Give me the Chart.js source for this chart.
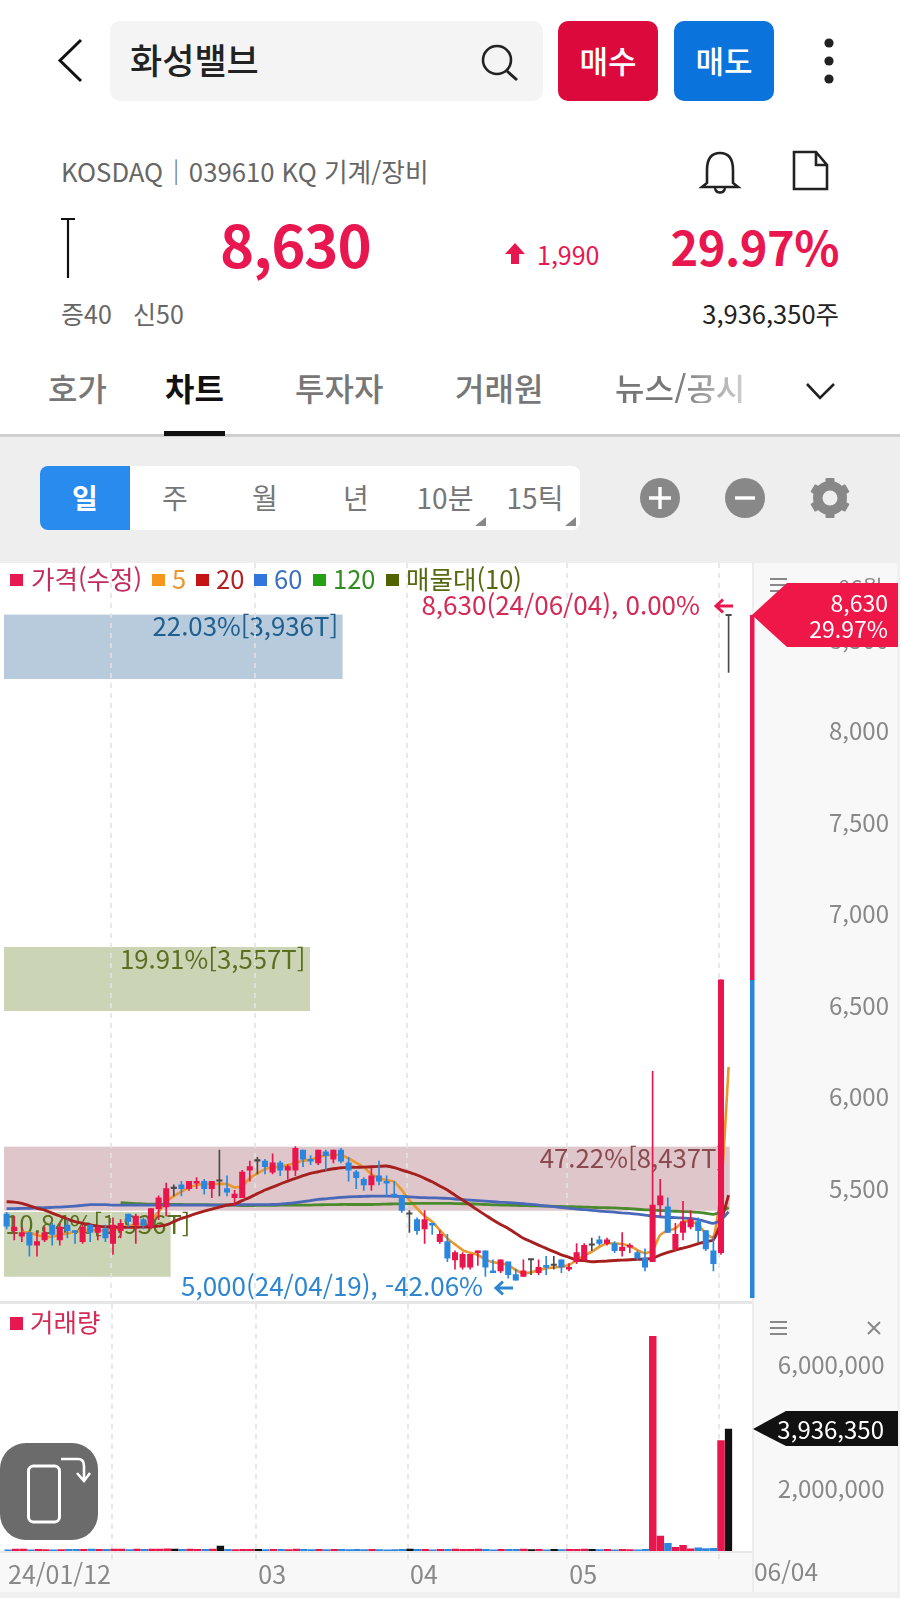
<!DOCTYPE html>
<html lang="ko"><head><meta charset="utf-8">
<script src="https://cdn.jsdelivr.net/npm/chart.js@4"></script>
<style>
*{box-sizing:border-box}
html,body{margin:0;padding:0;background:#fff;width:900px;height:1598px;overflow:hidden}
body{position:relative;font-family:'Noto Sans CJK KR','Noto Sans',sans-serif;color:#222}
.a{position:absolute;white-space:nowrap;line-height:1}
.m{transform:translateY(-50%)}
.r{transform:translate(-100%,-50%)}
.c{transform:translate(-50%,-50%)}
canvas{position:absolute;display:block}
svg{position:absolute;overflow:visible}
</style></head><body>
<!-- header -->
<div class="a" style="left:110px;top:21px;width:433px;height:80px;background:#f4f4f4;border-radius:10px"></div>
<svg style="left:0;top:0" width="900" height="440" fill="none">
<path d="M81 40 L60 60.5 L81 81" stroke="#111" stroke-width="3"/>
<circle cx="497" cy="60" r="14" stroke="#222" stroke-width="2.6"/><path d="M507 71 L517 80" stroke="#222" stroke-width="3"/>
<circle cx="829" cy="43" r="4.6" fill="#222"/><circle cx="829" cy="61" r="4.6" fill="#222"/><circle cx="829" cy="79" r="4.6" fill="#222"/>
<path d="M707 183 V170 C707 158 712 153 720 153 C728 153 733 158 733 170 V183 L738 187 H702 Z" stroke="#222" stroke-width="2.6"/><path d="M715 188 C716 194 724 194 725 188" stroke="#222" stroke-width="2.4"/>
<path d="M794 152 H816 L827 165 V189 H794 Z M816 152 V165 H827" stroke="#222" stroke-width="2.6"/>
<path d="M61 219 H75 M68 219 V278" stroke="#111" stroke-width="2.2"/>
<path d="M515 243 L525 254 H519 V264 H511 V254 H505 Z" fill="#e8174f"/>
<path d="M807 384 L820 398 L834 384" stroke="#222" stroke-width="2.6"/>
</svg>
<div class="a m" style="left:130px;top:58px;font-size:35px;font-weight:500;color:#222">화성밸브</div>
<div class="a" style="left:558px;top:21px;width:100px;height:80px;background:#dc0a3c;border-radius:10px"></div>
<div class="a" style="left:674px;top:21px;width:100px;height:80px;background:#0b73dc;border-radius:10px"></div>
<div class="a c" style="left:608px;top:59px;font-size:31px;font-weight:500;color:#fff">매수</div>
<div class="a c" style="left:724px;top:59px;font-size:31px;font-weight:500;color:#fff">매도</div>
<div class="a m" style="left:61px;top:171px;font-size:25.7px;color:#666">KOSDAQ｜039610 KQ 기계/장비</div>
<div class="a m" style="left:220px;top:243px;font-size:58px;font-weight:700;color:#e8174f;letter-spacing:-1px">8,630</div>
<div class="a m" style="left:537px;top:254px;font-size:25px;color:#e8174f">1,990</div>
<div class="a r" style="left:839px;top:245px;font-size:47px;font-weight:700;color:#e8174f;letter-spacing:-.5px">29.97%</div>
<div class="a m" style="left:61px;top:313px;font-size:25px;color:#666">증40</div>
<div class="a m" style="left:133px;top:313px;font-size:25px;color:#666">신50</div>
<div class="a r" style="left:839px;top:313px;font-size:25.5px;color:#222">3,936,350주</div>
<div class="a m" style="left:48px;top:387px;font-size:32px;font-weight:500;color:#777">호가</div>
<div class="a m" style="left:165px;top:387px;font-size:32px;font-weight:700;color:#111">차트</div>
<div class="a m" style="left:295px;top:387px;font-size:32px;font-weight:500;color:#777">투자자</div>
<div class="a m" style="left:455px;top:387px;font-size:32px;font-weight:500;color:#777">거래원</div>
<div class="a m" style="left:615px;top:387px;font-size:32px;font-weight:500;color:#777;-webkit-mask-image:linear-gradient(90deg,#000 45%,rgba(0,0,0,.35) 100%)">뉴스/공시</div>
<div class="a" style="left:0;top:434px;width:900px;height:3px;background:#cfcfcf"></div>
<div class="a" style="left:164px;top:431px;width:61px;height:5px;background:#111"></div>
<!-- toolbar -->
<div class="a" style="left:0;top:437px;width:900px;height:126px;background:#eee"></div>
<div class="a" style="left:40px;top:466px;width:540px;height:64px;background:#fff;border-radius:8px"></div>
<div class="a" style="left:40px;top:466px;width:90px;height:64px;background:#2a8bee;border-radius:8px 0 0 8px"></div>
<div class="a c" style="left:85px;top:497px;font-size:28px;font-weight:700;color:#fff">일</div>
<div class="a c" style="left:175px;top:497px;font-size:28px;color:#777">주</div>
<div class="a c" style="left:265px;top:497px;font-size:28px;color:#777">월</div>
<div class="a c" style="left:356px;top:497px;font-size:28px;color:#777">년</div>
<div class="a c" style="left:445px;top:497px;font-size:28px;color:#777">10분</div>
<div class="a c" style="left:535px;top:497px;font-size:28px;color:#777">15틱</div>
<svg style="left:0;top:437px" width="900" height="126">
<path d="M486 80 V89 H475 Z M576 80 V89 H565 Z" fill="#888"/>
<circle cx="660" cy="61" r="20" fill="#888"/><path d="M649 61 H671 M660 50 V72" stroke="#fff" stroke-width="3.4"/>
<circle cx="745" cy="61" r="20" fill="#888"/><path d="M735 61 H755" stroke="#fff" stroke-width="3.4"/>
<g transform="translate(830 61)" fill="#888"><circle r="12.5" fill="none" stroke="#888" stroke-width="9"/>
<rect x="-4.5" y="-20" width="9" height="40" rx="1"/><rect x="-4.5" y="-20" width="9" height="40" rx="1" transform="rotate(60)"/><rect x="-4.5" y="-20" width="9" height="40" rx="1" transform="rotate(120)"/><circle r="7.5" fill="#eee"/></g>
</svg>
<!-- panes background -->
<div class="a" style="left:752px;top:563px;width:148px;height:1035px;background:#f8f8f8;border-left:2px solid #ececec"></div>
<div class="a" style="left:0;top:1552px;width:752px;height:46px;background:#f8f8f8"></div>
<div class="a" style="left:0;top:1592px;width:900px;height:6px;background:#f0f0f0"></div>
<div class="a" style="left:897px;top:563px;width:3px;height:1035px;background:#f0f0f0"></div>
<div class="a" style="left:0;top:1301px;width:752px;height:3px;background:#e6e6e6"></div>
<div class="a" style="left:0;top:1551px;width:752px;height:2px;background:#e8e8e8"></div>
<canvas id="priceChart" style="left:0;top:563px" width="900" height="735"></canvas>
<canvas id="volumeChart" style="left:0;top:1304px" width="900" height="294"></canvas>
<!-- legend -->
<div class="a" style="left:10px;top:574px;width:13px;height:12px;background:#e8174f"></div>
<div class="a m" style="left:31px;top:578px;font-size:25.5px;color:#c42a5c">가격(수정)</div>
<div class="a" style="left:152px;top:574px;width:13px;height:12px;background:#f7961c"></div>
<div class="a m" style="left:172px;top:578px;font-size:25.5px;color:#e8982c">5</div>
<div class="a" style="left:196px;top:574px;width:13px;height:12px;background:#c41414"></div>
<div class="a m" style="left:216px;top:578px;font-size:25.5px;color:#b3201f">20</div>
<div class="a" style="left:254px;top:574px;width:13px;height:12px;background:#3274dc"></div>
<div class="a m" style="left:274px;top:578px;font-size:25.5px;color:#3b6fc0">60</div>
<div class="a" style="left:313px;top:574px;width:13px;height:12px;background:#25a012"></div>
<div class="a m" style="left:333px;top:578px;font-size:25.5px;color:#2f8f1e">120</div>
<div class="a" style="left:386px;top:574px;width:13px;height:12px;background:#4f6300"></div>
<div class="a m" style="left:406px;top:578px;font-size:25.5px;color:#556a10">매물대(10)</div>
<div class="a r" style="left:700px;top:604px;font-size:26px;color:#d42a55">8,630(24/06/04), 0.00%</div>
<div class="a m" style="left:181px;top:1285px;font-size:26px;color:#2f86d0">5,000(24/04/19), -42.06%</div>
<!-- gutter -->
<div class="a m" style="left:838px;top:586px;font-size:22px;color:#888">06월</div>
<svg style="left:0;top:0" width="900" height="1598">
<path d="M733 606 H716 M723 599.5 L716 606 L723 612.5" fill="none" stroke="#e8174f" stroke-width="3"/>
<path d="M513 1288 H496 M503 1281.5 L496 1288 L503 1294.5" fill="none" stroke="#2f86d0" stroke-width="3"/>
<path d="M770 579 H787 M770 585 H787 M770 591 H787" stroke="#888" stroke-width="2"/>
<path d="M770 1322 H787 M770 1328 H787 M770 1334 H787" stroke="#888" stroke-width="2"/>
<path d="M868 1322 L880 1334 M880 1322 L868 1334" stroke="#888" stroke-width="2"/>
<path d="M752 615 L787 583 H898 V647 H787 Z" fill="#ee1747"/>
<path d="M753 1429 L786 1411 H898 V1446 H786 Z" fill="#111"/>
<rect x="750" y="615" width="4.5" height="365" fill="#e8174f"/>
<rect x="750" y="980" width="4.5" height="318" fill="#2a86dc"/>
<rect x="0" y="1443" width="98" height="97" rx="26" fill="#6b6b6b"/>
<rect x="28.5" y="1466" width="31" height="56" rx="5" fill="none" stroke="#fff" stroke-width="3"/>
<path d="M61 1459 H78 Q84 1459 84 1466 V1480 M77 1473 L84 1481 L90 1473" fill="none" stroke="#fff" stroke-width="2.6"/>
</svg>
<div class="a r" style="left:888px;top:602px;font-size:23px;color:#fff">8,630</div>
<div class="a r" style="left:888px;top:628px;font-size:23px;color:#fff">29.97%</div>
<div class="a r" style="left:884px;top:1429px;font-size:24px;color:#fff">3,936,350</div>
<div class="a m" style="left:754px;top:1571px;font-size:24.5px;color:#888">06/04</div>
<div class="a" style="left:10px;top:1317px;width:13px;height:13px;background:#e8174f"></div>
<div class="a m" style="left:30px;top:1321px;font-size:25.5px;color:#d42a55">거래량</div>
<script>
const categories=['01/12','01/15','01/16','01/17','01/18','01/19','01/22','01/23','01/24','01/25','01/26','01/29','01/30','01/31',
'02/01','02/02','02/05','02/06','02/07','02/08','02/13','02/14','02/15','02/16','02/19','02/20','02/21','02/22','02/23','02/26','02/27','02/28','02/29',
'03/04','03/05','03/06','03/07','03/08','03/11','03/12','03/13','03/14','03/15','03/18','03/19','03/20','03/21','03/22','03/25','03/26','03/27','03/28','03/29',
'04/01','04/02','04/03','04/04','04/05','04/08','04/09','04/11','04/12','04/15','04/16','04/17','04/18','04/19','04/22','04/23','04/24','04/25','04/26','04/29','04/30',
'05/02','05/03','05/07','05/08','05/09','05/10','05/13','05/14','05/16','05/17','05/20','05/21','05/22','05/23','05/24','05/27','05/28','05/29','05/30','05/31',
'06/03','06/04'];
const opens=[5360,5270,5240,5260,5190,5220,5300,5220,5300,5270,5210,5300,5260,5280,5200,5270,5360,5300,5330,5290,5390,5400,5500,5520,5500,5530,5540,5500,5540,5500,5450,5450,5600,5650,5650,5590,5640,5600,5600,5710,5660,5640,5700,5660,5710,5640,5590,5550,5520,5570,5540,5470,5460,5360,5330,5280,5310,5210,5210,5110,5070,5070,5150,5160,5050,5050,5100,5030,5020,5110,5040,5080,5080,5110,5060,5100,5110,5190,5220,5200,5200,5160,5180,5150,5120,5100,5410,5400,5170,5260,5290,5320,5270,5160,5150,8630];
const closes=[5295,5290,5260,5190,5210,5260,5250,5290,5270,5260,5290,5260,5290,5230,5300,5310,5320,5350,5300,5390,5450,5500,5500,5500,5540,5540,5500,5540,5540,5480,5470,5590,5620,5650,5620,5640,5600,5620,5720,5660,5650,5710,5680,5710,5650,5600,5560,5520,5570,5540,5530,5460,5380,5360,5270,5330,5300,5250,5120,5150,5140,5140,5160,5070,5040,5110,5030,5000,5050,5110,5070,5070,5080,5070,5070,5150,5190,5190,5200,5220,5160,5180,5190,5120,5070,5410,5460,5260,5250,5320,5330,5270,5170,5090,6640,8630];
const highs=[5370,5350,5290,5260,5260,5290,5310,5310,5330,5270,5300,5300,5300,5300,5340,5330,5360,5360,5340,5390,5460,5530,5520,5540,5540,5560,5550,5540,5710,5570,5490,5600,5650,5670,5660,5690,5650,5630,5730,5710,5680,5710,5710,5710,5720,5670,5600,5560,5610,5650,5570,5540,5460,5380,5340,5380,5310,5270,5250,5160,5150,5140,5160,5160,5110,5110,5100,5060,5110,5110,5110,5130,5130,5110,5090,5200,5200,5230,5240,5230,5210,5260,5200,5160,5170,6140,5550,5450,5310,5430,5380,5340,5270,5240,6640,8630];
const lows=[5280,5220,5210,5130,5130,5210,5190,5190,5230,5200,5200,5210,5220,5210,5140,5230,5290,5200,5280,5280,5330,5350,5460,5460,5490,5500,5470,5450,5460,5460,5410,5450,5540,5580,5580,5580,5570,5550,5570,5620,5630,5630,5600,5640,5640,5540,5500,5490,5490,5520,5460,5450,5370,5260,5250,5200,5250,5200,5100,5060,5060,5060,5080,5020,5040,5040,5010,5000,5020,5030,5030,5030,5060,5040,5050,5090,5110,5160,5190,5190,5150,5130,5150,5110,5050,5100,5350,5260,5160,5220,5280,5210,5160,5050,5140,8320];
const ma5=[null,null,5264,5259,5246,5237,5237,5246,5255,5264,5270,5273,5273,5270,5277,5288,5295,5301,5310,5328,5373,5428,5459,5483,5505,5519,5525,5525,5525,5525,5506,5514,5556,5583,5605,5616,5619,5628,5641,5652,5659,5670,5683,5683,5683,5665,5641,5616,5579,5556,5546,5537,5492,5437,5392,5350,5319,5273,5228,5195,5164,5149,5137,5113,5097,5091,5082,5055,5036,5042,5055,5064,5069,5073,5082,5109,5133,5155,5182,5200,5200,5197,5186,5164,5146,5164,5246,5270,5282,5319,5319,5301,5255,5233,5490,6164];
const ma20=[5428,5426,5419,5406,5392,5382,5366,5350,5333,5319,5310,5301,5295,5291,5290,5288,5288,5288,5290,5291,5295,5301,5319,5337,5350,5364,5377,5388,5399,5410,5415,5434,5452,5472,5492,5508,5525,5541,5556,5570,5583,5592,5601,5608,5614,5616,5616,5617,5619,5621,5623,5614,5601,5588,5574,5556,5537,5514,5492,5464,5437,5410,5382,5355,5328,5304,5282,5255,5228,5210,5191,5173,5155,5138,5124,5109,5106,5100,5102,5104,5107,5109,5111,5113,5115,5118,5137,5151,5164,5175,5186,5199,5210,5219,5319,5464];
const ma60=[5390,5390,5392,5392,5395,5395,5397,5399,5401,5404,5408,5412,5412,5412,5410,5410,5410,5410,5410,5410,5410,5410,5410,5410,5410,5410,5410,5410,5410,5410,5411,5412,5412,5412,5412,5413,5415,5419,5423,5428,5434,5441,5444,5448,5452,5455,5456,5457,5459,5459,5459,5458,5457,5455,5452,5450,5449,5448,5446,5443,5440,5437,5434,5431,5428,5425,5423,5420,5417,5413,5410,5405,5401,5396,5392,5388,5385,5381,5377,5374,5371,5367,5364,5360,5355,5350,5346,5343,5341,5339,5337,5330,5320,5310,5328,5373];
const ma120=[null,null,null,null,null,null,null,null,null,null,null,null,null,null,null,5423,5420,5418,5416,5415,5414,5414,5413,5413,5412,5412,5412,5411,5411,5410,5410,5407,5407,5408,5408,5408,5409,5409,5410,5410,5410,5411,5412,5412,5413,5413,5413,5413,5413,5414,5415,5416,5417,5418,5419,5419,5419,5419,5419,5418,5417,5416,5415,5413,5411,5410,5409,5408,5407,5406,5405,5404,5403,5402,5401,5400,5399,5397,5396,5395,5394,5392,5390,5387,5384,5382,5380,5378,5376,5374,5373,5370,5365,5359,5373,5397];
const volumes=[40000,60000,60000,40000,55000,45000,40000,45000,50000,50000,55000,60000,55000,50000,65000,60000,45000,60000,55000,60000,65000,70000,60000,55000,60000,55000,50000,65000,160000,50000,45000,50000,55000,50000,45000,55000,50000,45000,60000,50000,45000,55000,45000,50000,55000,45000,50000,45000,50000,45000,40000,45000,50000,60000,50000,55000,40000,50000,50000,60000,55000,55000,60000,50000,40000,55000,50000,50000,60000,45000,55000,40000,50000,45000,50000,55000,60000,50000,45000,50000,40000,55000,45000,40000,50000,6930000,480000,250000,120000,180000,70000,100000,80000,90000,3560000,3936350];
const priceTicks=[5500,6000,6500,7000,7500,8000,8500];
const volumeTicks=[2000000,6000000];
const monthStarts=[14,33,53,74,94];
const xLabelIndex=[0,33,53,74];
const xLabelText=['24/01/12','03','04','05'];
const bandLow=[8284,6470,5379,5018];
const bandHigh=[8636,6820,5729,5372];
const bandPct=[22.03,19.91,47.22,10.84];
const bandVol=['3,936T','3,557T','8,437T','1,936T'];
const bandFill=['#b7cbdc','#ccd4b6','#dfc6cb','#ccd4b6'];
const bandInk=['#1f5f8f','#5a7020','#8a4a50','#5a7020'];

const FONT="'Noto Sans CJK KR','Noto Sans',sans-serif";
Chart.defaults.font.family=FONT;
Chart.defaults.animation=false;
const RED='#e8164c',BLUE='#2b87dd',DOJI='#4a4a4a';
const candleColors=opens.map((o,i)=>closes[i]>o?RED:closes[i]<o?BLUE:DOJI);
const volumeColors=opens.map((o,i)=>closes[i]>o?RED:closes[i]<o?BLUE:'#111111');
const fmt=v=>Number(v).toLocaleString('en-US');

const monthLines={id:'monthLines',beforeDatasetsDraw(c){
  const g=c.ctx,x=c.scales.x,a=c.chartArea;
  g.save();g.strokeStyle='#e3e3e3';g.lineWidth=1.6;g.setLineDash([5,5]);
  monthStarts.forEach(i=>{const px=Math.round(x.getPixelForValue(i)-2);
    g.beginPath();g.moveTo(px,a.top);g.lineTo(px,a.bottom+(c.canvas.id==='volumeChart'?9:0));g.stroke();});
  g.restore();}};
const profileBands={id:'profileBands',beforeDatasetsDraw(c){
  const g=c.ctx,y=c.scales.y,left=4,perPct=15.37;
  g.save();g.font='25.8px '+FONT;g.textBaseline='middle';
  bandPct.forEach((p,i)=>{const top=y.getPixelForValue(bandHigh[i]),bot=y.getPixelForValue(bandLow[i]),right=left+p*perPct;
    g.fillStyle=bandFill[i];g.fillRect(left,top,right-left,bot-top);});
  bandPct.forEach((p,i)=>{const top=y.getPixelForValue(bandHigh[i]),right=left+p*perPct;
    const s=p.toFixed(2)+'%['+bandVol[i]+']',w=g.measureText(s).width;
    g.fillStyle=bandInk[i];g.textAlign='left';g.fillText(s,Math.max(right-4.5-w,5),top+12);});
  g.restore();}};

new Chart(document.getElementById('priceChart'),{
  type:'bar',
  data:{labels:categories,datasets:[
    {type:'bar',label:'body',data:opens.map((o,i)=>[Math.min(o,closes[i]),Math.max(o,closes[i])]),backgroundColor:candleColors,barThickness:5.4,minBarLength:1.4,grouped:false,order:1},
    {type:'bar',label:'wick',data:lows.map((l,i)=>[l,highs[i]]),backgroundColor:candleColors,barThickness:1,grouped:false,order:2},
    {type:'line',label:'5',data:ma5,borderColor:'#e8982c',borderWidth:2.6,pointRadius:0,tension:.2,spanGaps:true,order:6},
    {type:'line',label:'120',data:ma120,borderColor:'#4c8a2e',borderWidth:2.8,pointRadius:0,tension:.2,spanGaps:true,order:5},
    {type:'line',label:'60',data:ma60,borderColor:'#4a68b8',borderWidth:2.8,pointRadius:0,tension:.2,order:4},
    {type:'line',label:'20',data:ma20,borderColor:'#a5201f',borderWidth:2.9,pointRadius:0,tension:.2,order:3}
  ]},
  plugins:[profileBands,monthLines],
  options:{responsive:false,maintainAspectRatio:false,devicePixelRatio:1,
    layout:{autoPadding:false,padding:{left:2.8,right:11,top:0,bottom:0}},
    plugins:{legend:{display:false},tooltip:{enabled:false}},
    scales:{
      x:{display:false,offset:true,grid:{display:false}},
      y:{position:'right',min:4902,max:8918,
        afterFit(s){s.width=156.6;},
        afterBuildTicks(s){s.ticks=priceTicks.map(v=>({value:v}));},
        grid:{display:false,drawTicks:false},border:{display:false},
        ticks:{crossAlign:'far',padding:0,color:'#888',font:{size:24,lineHeight:0},callback:fmt}}
    }}
});

new Chart(document.getElementById('volumeChart'),{
  type:'bar',
  data:{labels:categories,datasets:[{data:volumes,backgroundColor:volumeColors,barThickness:6.8}]},
  plugins:[monthLines],
  options:{responsive:false,maintainAspectRatio:false,devicePixelRatio:1,
    layout:{autoPadding:false,padding:{left:2.8,right:15.5,top:0,bottom:0}},
    plugins:{legend:{display:false},tooltip:{enabled:false}},
    scales:{
      x:{offset:true,grid:{display:false,drawTicks:false},border:{display:false},
        afterFit(s){s.height=47;},
        afterBuildTicks(s){s.ticks=xLabelIndex.map(v=>({value:v}));},
        ticks:{autoSkip:false,maxRotation:0,minRotation:0,align:'start',padding:8,color:'#888',font:{size:25},
          callback(v){return xLabelText[xLabelIndex.indexOf(v)];}}},
      y:{position:'right',min:0,max:7970000,
        afterFit(s){s.width=152.1;},
        afterBuildTicks(s){s.ticks=volumeTicks.map(v=>({value:v}));},
        grid:{display:false,drawTicks:false},border:{display:false},
        ticks:{crossAlign:'far',padding:0,color:'#888',font:{size:24,lineHeight:0},callback:fmt}}
    }}
});
</script>
</body></html>
